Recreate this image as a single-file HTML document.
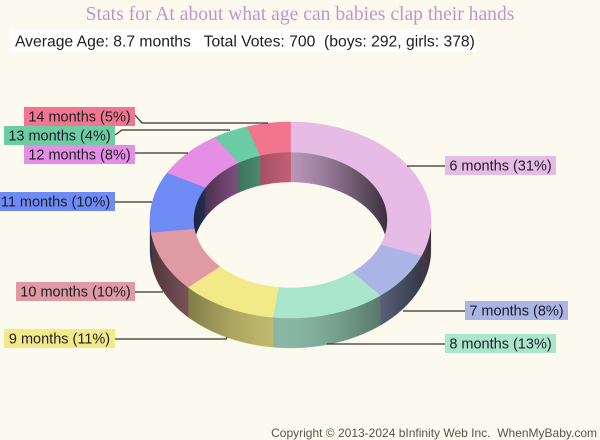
<!DOCTYPE html>
<html>
<head>
<meta charset="utf-8">
<style>
  html,body{margin:0;padding:0;}
  body{width:600px;height:440px;background:#fcf9ef;overflow:hidden;position:relative;}
  svg{position:absolute;left:0;top:0;}
  .lbl{font-family:"Liberation Sans",Arial,sans-serif;font-size:14.5px;fill:#1e1e24;}
</style>
</head>
<body>
<svg id="chart" width="600" height="440" viewBox="0 0 600 440" xmlns="http://www.w3.org/2000/svg">
  <defs>
    <linearGradient id="shadeOuter" gradientUnits="userSpaceOnUse" x1="150" y1="0" x2="431" y2="0"></linearGradient>
    <linearGradient id="shadeInner" gradientUnits="userSpaceOnUse" x1="193" y1="0" x2="388" y2="0"></linearGradient>
  </defs>
  <rect x="0" y="0" width="600" height="440" fill="#fcf9ef"/>
  <text x="300" y="20" text-anchor="middle" font-family="'Liberation Serif','Times New Roman',serif" font-size="19.6" fill="#c097c8">Stats for At about what age can babies clap their hands</text>
  <rect x="10" y="30" width="466" height="22" fill="#ffffff"/>
  <text x="15" y="46.6" font-family="'Liberation Sans',Arial,sans-serif" font-size="15.7" fill="#1e1e24">Average Age: 8.7 months&#160;&#160; Total Votes: 700&#160; (boys: 292, girls: 378)</text>
  <g id="donut"></g>
  <g id="lines" fill="none" stroke="#333" stroke-width="1.2">
    <polyline points="135,115 142,123 268,123"/>
    <polyline points="115,135 122,130 230,130"/>
    <polyline points="135,153 188,153"/>
    <polyline points="115,202 152,202"/>
    <polyline points="135,292 163,292"/>
    <polyline points="115,339 226,339 227,337"/>
    <polyline points="445,166 407,166"/>
    <polyline points="465,311 403,311"/>
    <polyline points="445,344 327,344"/>
  </g>
  <g id="labels">
    <rect x="24" y="107" width="111" height="19" fill="#f1758f"/>
    <text class="lbl" x="79.5" y="121.7" text-anchor="middle">14 months (5%)</text>
    <rect x="4" y="126" width="111" height="19" fill="#6ccda5"/>
    <text class="lbl" x="59.5" y="140.7" text-anchor="middle">13 months (4%)</text>
    <rect x="24" y="145" width="111" height="19" fill="#e58ee5"/>
    <text class="lbl" x="79.5" y="159.7" text-anchor="middle">12 months (8%)</text>
    <rect x="-4" y="192" width="119" height="19" fill="#6e8af5"/>
    <text class="lbl" x="55.5" y="206.7" text-anchor="middle">11 months (10%)</text>
    <rect x="16" y="282" width="119" height="19" fill="#e09aa3"/>
    <text class="lbl" x="75.5" y="296.7" text-anchor="middle">10 months (10%)</text>
    <rect x="4" y="329" width="111" height="19" fill="#f2ea88"/>
    <text class="lbl" x="59.5" y="343.7" text-anchor="middle">9 months (11%)</text>
    <rect x="445" y="156" width="111" height="19" fill="#e6bbe6"/>
    <text class="lbl" x="500.5" y="170.7" text-anchor="middle">6 months (31%)</text>
    <rect x="465" y="301" width="103" height="19" fill="#aab5e6"/>
    <text class="lbl" x="516.5" y="315.7" text-anchor="middle">7 months (8%)</text>
    <rect x="445" y="334" width="111" height="19" fill="#aae6cc"/>
    <text class="lbl" x="500.5" y="348.7" text-anchor="middle">8 months (13%)</text>
  </g>
  <text x="597" y="437" text-anchor="end" font-family="'Liberation Sans',Arial,sans-serif" font-size="12" fill="#555555">Copyright © 2013-2024 bInfinity Web Inc.&#160; WhenMyBaby.com</text>
</svg>
<script>
(function(){
  var NS="http://www.w3.org/2000/svg";
  var cx=290.5, cy=220, rx=140.5, ry=98, irx=97, iry=68, D=30;
  var data=[[217,'#e6bbe6'],[56,'#aab5e6'],[91,'#aae6cc'],[77,'#f2ea88'],[70,'#e09aa3'],[70,'#6e8af5'],[56,'#e58ee5'],[28,'#6ccda5'],[35,'#f1758f']];
  function pt(a,rx_,ry_,dy){var r=a*Math.PI/180;return [cx+rx_*Math.sin(r), cy+dy-ry_*Math.cos(r)];}
  function arc(a1,a2,rx_,ry_,dy){var n=Math.max(2,Math.ceil(Math.abs(a2-a1)/0.5));var p=[];for(var i=0;i<=n;i++){p.push(pt(a1+(a2-a1)*i/n,rx_,ry_,dy));}return p;}
  function d(pts){return 'M'+pts.map(function(p){return p[0].toFixed(2)+','+p[1].toFixed(2);}).join('L')+'Z';}
  var g=document.getElementById('donut');
  function add(pathD,fill,stroke){var e=document.createElementNS(NS,'path');e.setAttribute('d',pathD);e.setAttribute('fill',fill);if(stroke){e.setAttribute('stroke',stroke);e.setAttribute('stroke-width','0.6');e.setAttribute('stroke-linejoin','round');}g.appendChild(e);return e;}
  function fillGrad(id,x1,x2,f){var gr=document.getElementById(id);for(var i=0;i<=24;i++){var x=x1+(x2-x1)*i/24;var v=f(x);v=Math.max(0.2,Math.min(0.85,v));var s=document.createElementNS(NS,'stop');s.setAttribute('offset',(i/24).toFixed(4));s.setAttribute('stop-color','#000');s.setAttribute('stop-opacity',(1-v).toFixed(3));gr.appendChild(s);}}
  fillGrad('shadeOuter',150,431,function(x){return 0.8-0.5*Math.pow(Math.abs(x-283)/140,1.6);});
  fillGrad('shadeInner',193,388,function(x){return 0.8-0.55*Math.pow(Math.min(1,Math.abs(x-290)/97),1.3);});
  var total=0;data.forEach(function(s){total+=s[0];});
  var slices=[];var acc=0;
  data.forEach(function(s){var a1=acc/total*360;acc+=s[0];var a2=acc/total*360;slices.push([a1,a2,s[1]]);});
  slices.forEach(function(s){
    [[270,360],[0,90]].forEach(function(r){
      var a=Math.max(s[0],r[0]),b=Math.min(s[1],r[1]);
      if(b>a){add(d(arc(a,b,irx,iry,0).concat(arc(b,a,irx,iry,D))),s[2],s[2]);}
    });
  });
  add(d(arc(-90,90,irx,iry,0).concat(arc(90,-90,irx,iry,D))),'url(#shadeInner)');
  slices.forEach(function(s){
    var a=Math.max(s[0],90),b=Math.min(s[1],270);
    if(b>a){add(d(arc(a,b,rx,ry,0).concat(arc(b,a,rx,ry,D))),s[2],s[2]);}
  });
  add(d(arc(90,270,rx,ry,0).concat(arc(270,90,rx,ry,D))),'url(#shadeOuter)');
  slices.forEach(function(s){
    add(d(arc(s[0],s[1],rx,ry,0).concat(arc(s[1],s[0],irx,iry,0))),s[2],s[2]);
  });
})();
</script>
</body>
</html>
